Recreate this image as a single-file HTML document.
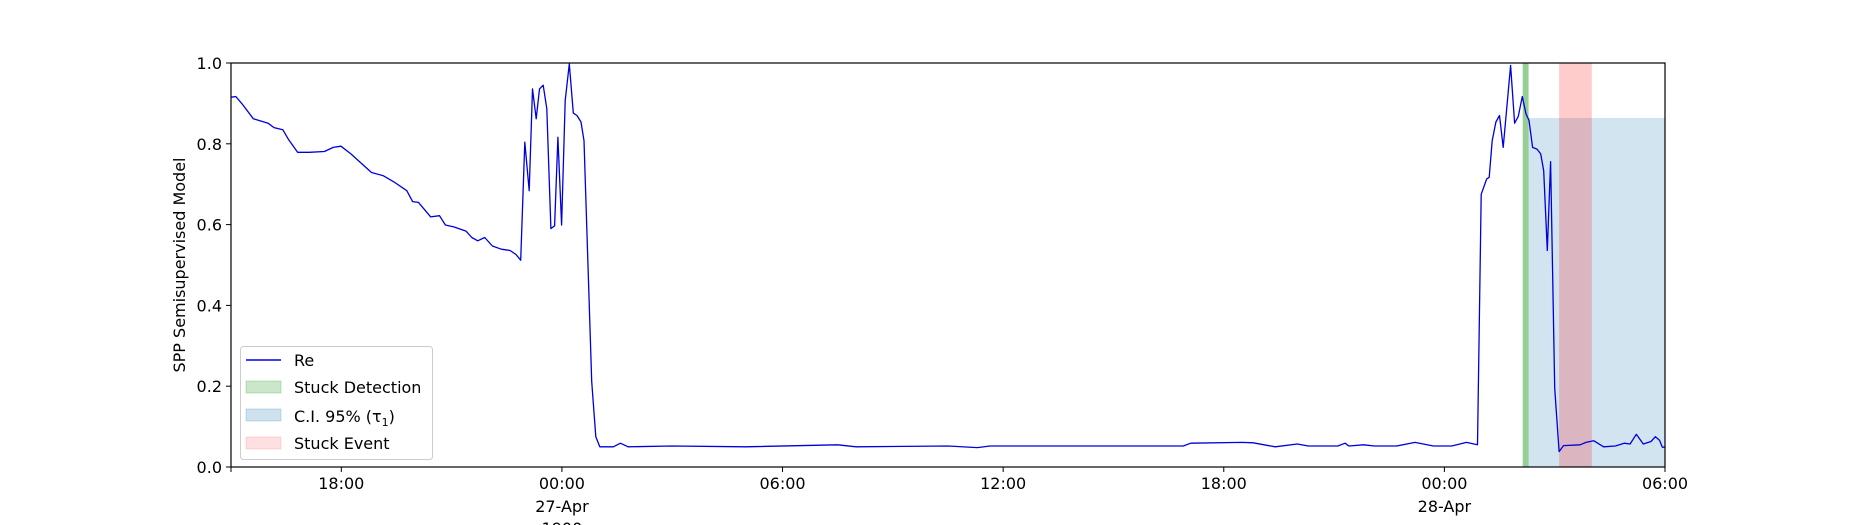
<!DOCTYPE html>
<html><head><meta charset="utf-8"><style>
body{margin:0;background:#fff}
svg{display:block;font-family:"DejaVu Sans","Liberation Sans",sans-serif}
</style></head><body>
<svg id="chart" width="1850" height="525" viewBox="0 0 1850 525"></svg>
<script>
const hours=[0,.13,.29,.61,1.01,1.17,1.41,1.57,1.81,2.13,2.54,2.78,2.99,3.26,3.82,4.14,4.46,4.78,4.94,5.10,5.43,5.67,5.83,6.07,6.39,6.55,6.71,6.90,7.11,7.35,7.59,7.75,7.88,7.99,8.11,8.20,8.30,8.39,8.49,8.59,8.70,8.80,8.89,8.99,9.09,9.20,9.31,9.41,9.52,9.60,9.81,9.92,10.03,10.40,10.59,10.80,12,14,16.5,17,19.5,20.3,20.64,25.9,26.1,27.5,27.8,28.4,29.0,29.3,30.1,30.3,30.4,30.8,31.1,31.7,32.2,32.7,33.2,33.6,33.9,34.0,34.15,34.22,34.3,34.4,34.5,34.6,34.8,34.91,35.01,35.12,35.22,35.30,35.4,35.52,35.62,35.70,35.80,35.89,36.0,36.12,36.24,36.69,36.85,37.06,37.33,37.65,37.89,38.05,38.22,38.41,38.62,38.74,38.85,38.93,39];
const values=[.915,.917,.90,.862,.851,.84,.835,.81,.779,.779,.781,.791,.794,.775,.729,.721,.704,.684,.657,.655,.619,.622,.599,.594,.584,.568,.560,.568,.547,.539,.536,.526,.512,.804,.684,.936,.862,.936,.945,.887,.590,.597,.816,.599,.907,.998,.876,.870,.854,.808,.212,.075,.050,.050,.059,.050,.052,.050,.055,.050,.052,.048,.052,.052,.059,.061,.060,.050,.057,.052,.052,.059,.052,.055,.052,.052,.061,.052,.052,.061,.055,.675,.713,.717,.808,.854,.870,.791,.994,.851,.868,.917,.874,.858,.791,.787,.775,.733,.536,.756,.195,.038,.053,.055,.061,.065,.050,.052,.059,.057,.081,.057,.063,.075,.066,.049,.049];
const xTickHours=[3,9,15,21,27,33,39];
const xTickLabels=["18:00","00:00","06:00","12:00","18:00","00:00","06:00"];
const xTickSub=["","27-Apr\n1900","","","","28-Apr",""];
const yTicks=[0,0.2,0.4,0.6,0.8,1.0];
const detection=[35.13,35.29];
const ciSpan=[35.29,39];
const ciTop=[0.864];
const eventSpan=[36.12,37.01];

const L=231,R=1665,T=63,B=467,H0=0,H1=39;
const X=h=>L+(h-H0)/(H1-H0)*(R-L);
const Y=v=>B-v*(B-T);
const NS="http://www.w3.org/2000/svg";
const svg=document.getElementById('chart');
function mk(t,a,p){const e=document.createElementNS(NS,t);for(const k in a)e.setAttribute(k,a[k]);(p||svg).appendChild(e);return e;}

let r=mk('rect',{x:X(ciSpan[0]),y:Y(ciTop[0]),width:X(ciSpan[1])-X(ciSpan[0]),height:B-Y(ciTop[0]),fill:'#1f77b4','fill-opacity':0.2});


r=mk('rect',{x:X(eventSpan[0]),y:T,width:X(eventSpan[1])-X(eventSpan[0]),height:B-T,fill:'#ff0000','fill-opacity':0.2});


r=mk('rect',{x:X(detection[0]),y:T,width:X(detection[1])-X(detection[0]),height:B-T,fill:'#2ca02c','fill-opacity':0.5});



let d=hours.map((h,i)=>(i?'L':'M')+X(h).toFixed(1)+','+Y(values[i]).toFixed(1)).join('');
let p=mk('path',{d:d,fill:'none',stroke:'#0000dd','stroke-width':1.3,'stroke-linejoin':'round'});



let f=mk('rect',{x:L,y:T,width:R-L,height:B-T,fill:'none',stroke:'#000','stroke-width':1.2});



yTicks.forEach(v=>{
  mk('line',{x1:L-5,x2:L,y1:Y(v),y2:Y(v),stroke:'#000'});
  const t=mk('text',{x:L-9,y:Y(v)+6,'text-anchor':'end','font-size':16});
  t.textContent=v.toFixed(1);
  
  
});
xTickHours.forEach((h,i)=>{
  mk('line',{x1:X(h),x2:X(h),y1:B,y2:B+5,stroke:'#000'});
  const t=mk('text',{x:X(h),y:489,'text-anchor':'middle','font-size':16});
  t.textContent=xTickLabels[i];
  
  
  xTickSub[i].split('\n').forEach((s,j)=>{if(!s)return;
    const u=mk('text',{x:X(h),y:512+j*22,'text-anchor':'middle','font-size':16});
    u.textContent=s;
    
    
  });
});
mk('line',{x1:L,x2:L,y1:B,y2:B+5,stroke:'#000'});
let yt=mk('text',{x:0,y:0,'text-anchor':'middle','font-size':16,transform:'translate(185,265) rotate(-90)'});
yt.textContent='SPP Semisupervised Model';



const lg=mk('g',{});


mk('rect',{x:240.5,y:346.5,width:192,height:113,rx:3,fill:'#fff','fill-opacity':0.8,stroke:'#ccc'},lg);
mk('line',{x1:246,x2:281,y1:360,y2:360,stroke:'#0000dd','stroke-width':1.5},lg);
const sw=[['#2ca02c',0.25,387],['#1f77b4',0.22,415],['#ff0000',0.12,443]];
sw.forEach(s=>mk('rect',{x:246,y:s[2]-6,width:35,height:12,fill:s[0],'fill-opacity':s[1],stroke:s[0],'stroke-opacity':s[1]},lg));
const names=['Re','Stuck Detection','C.I. 95% (τ','Stuck Event'];
const ly=[366,393,422,449];
names.forEach((n,i)=>{
  const t=mk('text',{x:294,y:ly[i],'font-size':16},lg);
  t.textContent=n;
  if(i==2){const a=mk('tspan',{'font-size':11,dy:4},t);a.textContent='1';const b=mk('tspan',{dy:-4},t);b.textContent=')';}
  
  
});
</script>
</body></html>
